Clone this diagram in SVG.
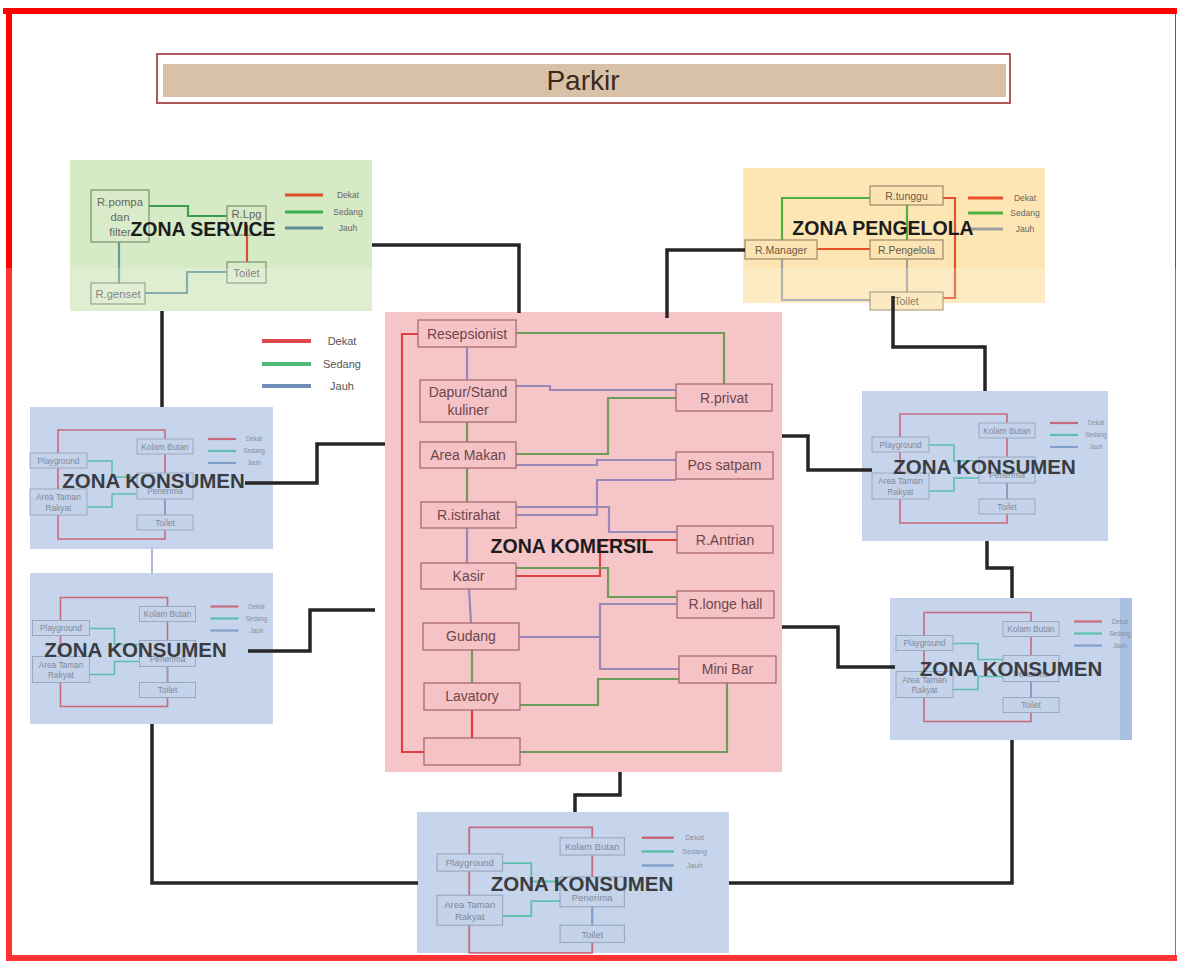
<svg xmlns="http://www.w3.org/2000/svg" xmlns:xlink="http://www.w3.org/1999/xlink" width="1177" height="963" viewBox="0 0 1177 963">
<style>
  text { font-family: "Liberation Sans", Arial, sans-serif; }
  .title { font-weight: bold; font-size: 19.5px; fill: #1c1c1c; text-anchor: middle; }
  .ktitle { font-weight: bold; font-size: 20.5px; fill: #3a3d42; text-anchor: middle; }
  .conn { fill: none; stroke: #262626; stroke-width: 3.5; stroke-linejoin: miter; }
  .sbox { fill: #d9ebc8; stroke: #7e8e70; stroke-width: 1.2; }
  .stxt { font-size: 11.3px; fill: #666; text-anchor: middle; }
  .pbox { fill: #fbe4b2; stroke: #9c8a6a; stroke-width: 1.2; }
  .ptxt { font-size: 10.5px; fill: #6a5a48; text-anchor: middle; }
  .cbox { fill: #f5c3c6; stroke: #a86a72; stroke-width: 1.3; }
  .ctxt { font-size: 14px; fill: #6e454c; text-anchor: middle; }
  .leg { font-size: 8.5px; fill: #666; text-anchor: middle; }
  .kbg { fill: #b8cbe6; fill-opacity: 0.8; }
  .kbox { fill: #c4d3ea; stroke: #9aa9c2; stroke-width: 1; }
  .ktxt { font-size: 8.3px; fill: #7f889a; text-anchor: middle; }
  .kleg { font-size: 6.3px; fill: #8a8f9a; text-anchor: middle; }
  .kred { fill: none; stroke: #c86a7c; stroke-width: 1.6; }
  .kteal { fill: none; stroke: #5fbfae; stroke-width: 1.6; }
  .kblue { fill: none; stroke: #80a0cc; stroke-width: 1.6; }
  .lred { fill: none; stroke: #e04040; stroke-width: 2.2; }
  .lpur { fill: none; stroke: #9a88b8; stroke-width: 2.2; }
  .lgrn { fill: none; stroke: #6e9a5a; stroke-width: 2.2; }
</style>
<defs>
  <g id="kInner">
    <path class="kred" d="M28,23 H135 V132 H28 Z"/>
    <path class="kteal" d="M57,54 H82 V70 H107"/>
    <path class="kteal" d="M57,100 H82 V87 H107"/>
    <path class="kblue" d="M135,92 V108"/>
    <rect class="kbox" x="0" y="46" width="57" height="15"/>
    <rect class="kbox" x="107" y="32" width="56" height="15"/>
    <rect class="kbox" x="0" y="82" width="57" height="26"/>
    <rect class="kbox" x="107" y="66" width="56" height="26"/>
    <rect class="kbox" x="107" y="108" width="56" height="15"/>
    <text class="ktxt" x="28.5" y="56.8">Playground</text>
    <text class="ktxt" x="135" y="42.8">Kolam Butan</text>
    <text class="ktxt" x="28.5" y="93">Area Taman</text>
    <text class="ktxt" x="28.5" y="103.5">Rakyat</text>
    <text class="ktxt" x="135" y="87">Penerima</text>
    <text class="ktxt" x="135" y="118.8">Toilet</text>
    <line x1="178" y1="32" x2="206" y2="32" stroke="#c86a7c" stroke-width="2.2"/>
    <line x1="178" y1="44" x2="206" y2="44" stroke="#5fbfae" stroke-width="2.2"/>
    <line x1="178" y1="56" x2="206" y2="56" stroke="#80a0cc" stroke-width="2.2"/>
    <text class="kleg" x="224" y="34.2">Dekat</text>
    <text class="kleg" x="224" y="46.2">Sedang</text>
    <text class="kleg" x="224" y="58.2">Jauh</text>
  </g>
</defs>

<rect x="0" y="0" width="1177" height="963" fill="#ffffff"/>

<g id="frame">
  <rect x="3" y="8" width="1174" height="6" fill="#ff0000"/>
  <rect x="6" y="8" width="6" height="953" fill="#ff0000"/>
  <rect x="6" y="955" width="1171" height="6" fill="#ff0000"/>
  <line x1="1175.5" y1="14" x2="1175.5" y2="955" stroke="#c03030" stroke-width="1"/>
</g>

<g id="parkir">
  <rect x="157" y="54" width="853" height="49" fill="#ffffff" stroke="#b05858" stroke-width="2"/>
  <rect x="163" y="64" width="843" height="33" fill="#d9c1a8"/>
  <text x="583" y="90" font-size="28" fill="#3b2a1c" text-anchor="middle">Parkir</text>
</g>

<g id="zona-service">
  <rect x="70" y="160" width="302" height="151" fill="#d7eac6"/>
  <path d="M149,206 H188 V216 H227" fill="none" stroke="#3aa050" stroke-width="2.2"/>
  <path d="M247,225 V262" fill="none" stroke="#d85030" stroke-width="2.2"/>
  <path d="M119,242 V283 M145,293 H187 V272 H227" fill="none" stroke="#6a9a9c" stroke-width="2.2"/>
  <rect class="sbox" x="91" y="190" width="58" height="52"/>
  <rect class="sbox" x="227" y="206" width="39" height="29" fill-opacity="0"/>
  <rect class="sbox" x="227" y="262" width="39" height="21"/>
  <rect class="sbox" x="91" y="283" width="54" height="21"/>
  <text class="stxt" x="120" y="206">R.pompa</text>
  <text class="stxt" x="120" y="221">dan</text>
  <text class="stxt" x="120" y="236">filter</text>
  <text class="stxt" x="246.5" y="218" font-size="10">R.Lpg</text>
  <text class="stxt" x="246.5" y="277">Toilet</text>
  <text class="stxt" x="118" y="298">R.genset</text>
  <line x1="285" y1="195" x2="323" y2="195" stroke="#d9502a" stroke-width="3"/>
  <line x1="285" y1="212" x2="323" y2="212" stroke="#3cb050" stroke-width="3"/>
  <line x1="285" y1="228" x2="323" y2="228" stroke="#5f8f94" stroke-width="3"/>
  <text class="leg" x="348" y="198">Dekat</text>
  <text class="leg" x="348" y="215">Sedang</text>
  <text class="leg" x="348" y="231">Jauh</text>
  <text class="title" x="203" y="236">ZONA SERVICE</text>
</g>

<g id="zona-pengelola">
  <rect x="743" y="168" width="302" height="135" fill="#fde6b4"/>
  <path d="M782,240 V198 H870 M907,205 V240" fill="none" stroke="#50b040" stroke-width="2.2"/>
  <path d="M817,249 H870 M943,198 H955 V298 H943" fill="none" stroke="#e8502a" stroke-width="2.2"/>
  <path d="M782,259 V300 H870 M907,259 V292" fill="none" stroke="#a0a0a0" stroke-width="2.2"/>
  <rect class="pbox" x="870" y="186" width="73" height="19"/>
  <rect class="pbox" x="745" y="240" width="72" height="19"/>
  <rect class="pbox" x="870" y="240" width="73" height="19"/>
  <rect class="pbox" x="870" y="292" width="73" height="18" fill="#fdf3dc"/>
  <text class="ptxt" x="906.5" y="199.5">R.tunggu</text>
  <text class="ptxt" x="781" y="253.5">R.Manager</text>
  <text class="ptxt" x="906.5" y="253.5">R.Pengelola</text>
  <text class="ptxt" x="906.5" y="305">Toilet</text>
  <line x1="968" y1="198" x2="1003" y2="198" stroke="#e8502a" stroke-width="3"/>
  <line x1="968" y1="213" x2="1003" y2="213" stroke="#50b040" stroke-width="3"/>
  <line x1="968" y1="229" x2="1003" y2="229" stroke="#a0a0a0" stroke-width="3"/>
  <text class="leg" x="1025" y="201">Dekat</text>
  <text class="leg" x="1025" y="216">Sedang</text>
  <text class="leg" x="1025" y="232">Jauh</text>
  <text class="title" x="883" y="235">ZONA PENGELOLA</text>
</g>

<g id="watermark-band">
  <rect x="0" y="268" width="1177" height="695" fill="#ffffff" fill-opacity="0.2"/>
</g>

<g id="legend">
  <line x1="262" y1="341" x2="311" y2="341" stroke="#e04850" stroke-width="4"/>
  <line x1="262" y1="364" x2="311" y2="364" stroke="#50b878" stroke-width="4"/>
  <line x1="262" y1="386" x2="311" y2="386" stroke="#6f8fb8" stroke-width="4"/>
  <text x="342" y="345" font-size="11" fill="#555" text-anchor="middle">Dekat</text>
  <text x="342" y="368" font-size="11" fill="#555" text-anchor="middle">Sedang</text>
  <text x="342" y="390" font-size="11" fill="#555" text-anchor="middle">Jauh</text>
</g>

<g id="zona-komersil">
  <rect x="385" y="312" width="397" height="460" fill="#f6c5c8"/>
  <path class="lred" d="M418,334 H402 V752 H424 M677,540 H600 V576 H516 M472,710 V738"/>
  <path class="lpur" d="M467,347 V380 M516,386 H550 V390 H676 M516,465 H597 V460 H676 M516,515 H597 V480 H676 M516,507 H609 V532 H677 M467,528 V563 M469,589 L471,623 M519,637 H600 M677,604 H600 V669 H679"/>
  <path class="lgrn" d="M516,333 H724 V384 M467,422 V442 M516,454 H608 V398 H676 M467,468 V502 M516,568 H608 V597 H677 M472,650 V683 M520,705 H598 V679 H679 M520,752 H727 V683"/>
  <rect class="cbox" x="418" y="320" width="98" height="27"/>
  <rect class="cbox" x="420" y="380" width="96" height="42"/>
  <rect class="cbox" x="420" y="442" width="96" height="26"/>
  <rect class="cbox" x="421" y="502" width="95" height="26"/>
  <rect class="cbox" x="421" y="563" width="95" height="26"/>
  <rect class="cbox" x="423" y="623" width="96" height="27"/>
  <rect class="cbox" x="424" y="683" width="96" height="27"/>
  <rect class="cbox" x="424" y="738" width="96" height="27"/>
  <rect class="cbox" x="676" y="384" width="96" height="27"/>
  <rect class="cbox" x="676" y="452" width="97" height="27"/>
  <rect class="cbox" x="677" y="526" width="96" height="27"/>
  <rect class="cbox" x="677" y="591" width="97" height="27"/>
  <rect class="cbox" x="679" y="656" width="97" height="27"/>
  <text class="ctxt" x="467" y="338.5">Resepsionist</text>
  <text class="ctxt" x="468" y="397" font-size="13.5">Dapur/Stand</text>
  <text class="ctxt" x="468" y="415" font-size="13.5">kuliner</text>
  <text class="ctxt" x="468" y="460">Area Makan</text>
  <text class="ctxt" x="468.5" y="520">R.istirahat</text>
  <text class="ctxt" x="468.5" y="581">Kasir</text>
  <text class="ctxt" x="471" y="641">Gudang</text>
  <text class="ctxt" x="472" y="701">Lavatory</text>
  <text class="ctxt" x="724" y="402.5">R.privat</text>
  <text class="ctxt" x="724.5" y="470">Pos satpam</text>
  <text class="ctxt" x="725" y="544.5">R.Antrian</text>
  <text class="ctxt" x="725.5" y="609">R.longe hall</text>
  <text class="ctxt" x="727.5" y="674">Mini Bar</text>
  <text class="title" x="572" y="553" fill="#333">ZONA KOMERSIL</text>
</g>

<g id="konsumen-kiri-atas">
  <rect class="kbg" x="30" y="407" width="243" height="142"/>
  <use xlink:href="#kInner" transform="translate(30,407)"/>
  <text class="ktitle" x="153.5" y="488">ZONA KONSUMEN</text>
</g>

<g id="konsumen-kiri-bawah">
  <rect class="kbg" x="30" y="573" width="243" height="151"/>
  <use xlink:href="#kInner" transform="translate(32.5,574.5)"/>
  <text class="ktitle" x="135.5" y="657">ZONA KONSUMEN</text>
</g>

<g id="konsumen-kanan-atas">
  <rect class="kbg" x="862" y="391" width="246" height="150"/>
  <use xlink:href="#kInner" transform="translate(872,391)"/>
  <text class="ktitle" x="984.5" y="474">ZONA KONSUMEN</text>
</g>

<g id="konsumen-kanan-bawah">
  <rect class="kbg" x="890" y="598" width="230" height="142"/>
  <rect x="1120" y="598" width="12" height="142" fill="#a9c0e2"/>
  <use xlink:href="#kInner" transform="translate(896,589.5)"/>
  <text class="ktitle" x="1011" y="676">ZONA KONSUMEN</text>
</g>

<g id="konsumen-bawah">
  <rect class="kbg" x="417" y="812" width="312" height="141"/>
  <use xlink:href="#kInner" transform="translate(437,801) scale(1.15)"/>
  <text class="ktitle" x="582" y="891">ZONA KONSUMEN</text>
</g>

<g id="connectors">
  <path class="conn" d="M372,245 H519 V313"/>
  <path class="conn" d="M162,311 V407"/>
  <path class="conn" d="M745,250 H667 V318"/>
  <path class="conn" d="M893,296 V347 H985 V391"/>
  <path class="conn" d="M245,483 H317 V444 H385"/>
  <path class="conn" d="M248,651 H310 V610 H375"/>
  <path class="conn" d="M782,436 H808 V470 H872"/>
  <path class="conn" d="M782,627 H838 V667 H895"/>
  <path class="conn" d="M620,772 V795 H575 V812"/>
  <path class="conn" d="M152,724 V883 H418"/>
  <path class="conn" d="M1012,740 V883 H729"/>
  <path class="conn" d="M987,541 V568 H1012 V598"/>
  <path d="M152,549 V573" fill="none" stroke="#8ca2c2" stroke-width="1.5"/>
</g>
</svg>
